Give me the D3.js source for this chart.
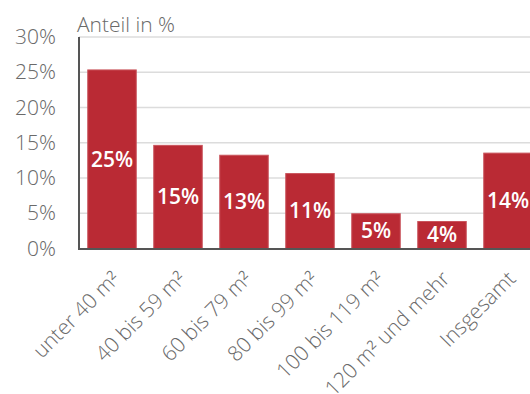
<!DOCTYPE html>
<html>
<head>
<meta charset="utf-8">
<script src="https://cdn.jsdelivr.net/npm/d3@7"></script>
<style>
    body { margin: 0; background: #fff; }
    svg { display: block; font-family: "Open Sans", sans-serif; }
    .light { font-family: "Open Sans Light", "Open Sans", sans-serif; font-weight: 300; }
</style>
</head>
<body>
<svg width="530" height="394"></svg>
<script>
// Categories, values and tick labels
const categories = [ "unter 40 m²", "40 bis 59 m²", "60 bis 79 m²", "80 bis 99 m²", "100 bis 119 m²", "120 m² und mehr", "Insgesamt" ];
const values     = [ 25.4, 14.7, 13.3, 10.7, 5.0, 3.9, 13.6 ];
const valueLabels = [ "25%", "15%", "13%", "11%", "5%", "4%", "14%" ];
const yTicks     = [ 0, 5, 10, 15, 20, 25, 30 ];

var svg = d3.select( "svg" );

// Set ranges
var x = d3.scaleBand()
          .domain( categories )
          .range( [ 79, 541 ] )
          .paddingInner( 0.25 )
          .paddingOuter( 0.125 );
var y = d3.scaleLinear().domain( [ 0, 30 ] ).range( [ 248.5, 37 ] );

// Grid lines
svg.append( "g" )
   .selectAll( "line" )
   .data( yTicks.filter( function(d) { return d > 0; } ) )
   .join( "line" )
   .attr( "x1", 79 )
   .attr( "x2", 530 )
   .attr( "y1", function(d) { return y( d ); } )
   .attr( "y2", function(d) { return y( d ); } )
   .attr( "stroke", "#dcdcdc" )
   .attr( "stroke-width", 1.6 );

// Y axis labels
var yAxis = svg.append( "g" )
               .attr( "transform", "translate(56,0)" )
               .call( d3.axisLeft( y ).tickValues( yTicks ).tickSize( 0 ).tickPadding( 0 )
                        .tickFormat( function(d) { return d + "%"; } ) );
yAxis.select( ".domain" ).remove();
yAxis.attr( "font-family", null ).attr( "font-size", null );
yAxis.selectAll( "text" )
     .attr( "class", "light" )
     .attr( "fill", "#6a6a6a" )
     .attr( "font-size", "21px" );

// Axis title
svg.append( "text" )
   .attr( "class", "light" )
   .attr( "x", 77 )
   .attr( "y", 32 )
   .attr( "fill", "#6a6a6a" )
   .attr( "font-size", "21px" )
   .text( "Anteil in %" );

// Bars
svg.append( "g" )
   .selectAll( "rect" )
   .data( values )
   .join( "rect" )
   .attr( "x", function(d, i) { return x( categories[i] ) + 0.5; } )
   .attr( "y", function(d) { return y( d ) + 0.5; } )
   .attr( "width", x.bandwidth() - 1 )
   .attr( "height", function(d) { return y( 0 ) - y( d ); } )
   .attr( "fill", "#ba2a34" )
   .attr( "stroke", "#c9545c" )
   .attr( "stroke-width", 1 );

// Value labels, centered in bar
svg.append( "g" )
   .selectAll( "text" )
   .data( values )
   .join( "text" )
   .attr( "x", function(d, i) { return x( categories[i] ) + x.bandwidth() / 2; } )
   .attr( "y", function(d) { return ( y( d ) + y( 0 ) ) / 2; } )
   .attr( "dy", "0.36em" )
   .attr( "text-anchor", "middle" )
   .attr( "fill", "#fff" )
   .attr( "font-size", "21px" )
   .attr( "font-weight", 600 )
   .text( function(d, i) { return valueLabels[i]; } );

// Axis lines
svg.append( "line" )
   .attr( "x1", 79 ).attr( "x2", 79 )
   .attr( "y1", 37 ).attr( "y2", 249.5 )
   .attr( "stroke", "#555" ).attr( "stroke-width", 2 );
svg.append( "line" )
   .attr( "x1", 78 ).attr( "x2", 530 )
   .attr( "y1", 249 ).attr( "y2", 249 )
   .attr( "stroke", "#555" ).attr( "stroke-width", 2 );

// Rotated category labels
svg.append( "g" )
   .selectAll( "text" )
   .data( categories )
   .join( "text" )
   .attr( "class", "light" )
   .attr( "transform", function(d) {
       return "translate(" + ( x( d ) + x.bandwidth() / 2 + 9 ) + ",280) rotate(-45)";
   })
   .attr( "text-anchor", "end" )
   .attr( "fill", "#6a6a6a" )
   .attr( "font-size", "21px" )
   .text( function(d) { return d; } );
</script>
</body>
</html>
